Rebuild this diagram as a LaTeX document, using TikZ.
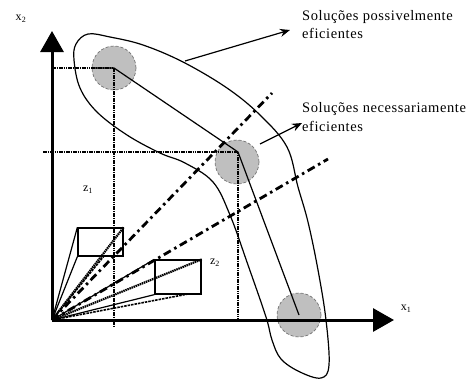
\documentclass[tikz,border=0pt]{standalone}
\usepackage{fontspec}
\setmainfont{Liberation Serif}
\newfontfamily\lblfont[LetterSpace=4]{Liberation Serif}
\usetikzlibrary{arrows.meta}
\begin{document}
\begin{tikzpicture}[x=1pt,y=-1pt,
  axis/.style={line width=3pt, -{Triangle[width=23pt,length=21pt]}},
  guide/.style={line width=2.8pt, dash pattern=on 1.6pt off 0.7pt},
  ray/.style={line width=2.8pt, dash pattern=on 8pt off 4pt on 2.5pt off 4pt},
  sol/.style={circle, minimum size=44pt, inner sep=0pt, fill=black!25, draw=black!55, densely dashed, line width=0.7pt},
  cone/.style={draw, line width=1.3pt, inner sep=0pt},
  thinline/.style={line width=1.2pt},
  fandot/.style={line width=2.2pt, dash pattern=on 1.5pt off 0.7pt},
  fandash/.style={line width=1.6pt, dash pattern=on 2.5pt off 1pt},
  lbl/.style={inner sep=0pt, anchor=base west, font=\lblfont\fontsize{14.5}{17}\selectfont},
  axl/.style={inner sep=0pt, font=\fontsize{12}{14}\selectfont},
  pointer/.style={line width=1.2pt, -{Stealth[length=10pt,width=8pt]}}
]
\useasboundingbox (0,0) rectangle (473,381);

% envelope of possibly efficient solutions
\draw[thinline] plot[smooth cycle, tension=0.6] coordinates {
  (76,44) (88,34) (110,37) (143,45) (183,62) (227,88) (260,115) (287,147)
  (298,187) (308,222) (318,270) (326,320) (329,365) (321,378) (300,372)
  (281,359) (272,340) (266,317) (248,265) (230,215) (213,182) (185,163)
  (160,153) (127,135) (97,112) (80,88) (74,60)};

% solutions
\node[sol] (c1) at (114,68) {};
\node[sol] (c2) at (237,162) {};
\node[sol] (c3) at (299,315) {};

% coordinates
\coordinate (O) at (52,320);
\coordinate (x2tip) at (52,31);
\coordinate (x1tip) at (394,320);
\coordinate (p1) at (114,68);
\coordinate (p2) at (238,152);
\coordinate (g1a) at (52,68);
\coordinate (g1b) at (114,326);
\coordinate (g2a) at (43,152);
\coordinate (g2b) at (238,322);
\coordinate (f0) at (93,68);
\coordinate (r1) at (272,93);
\coordinate (r2) at (328,159);

% guide lines
\draw[guide] (g1a) -- (p1) -- (g1b);
\draw[guide] (g2a) -- (p2) -- (g2b);

% frontier
\draw[thinline] (f0) -- (p1) -- (p2) -- (c3.center);

% rays
\draw[ray] (O) -- (r1);
\draw[ray] (O) -- (r2);

% boxes
\node[cone, minimum width=45pt, minimum height=28pt] (b1) at (100.5,242) {};
\node[cone, minimum width=46pt, minimum height=34pt] (b2) at (178,277) {};
\coordinate (b1m) at (104,256);
\coordinate (b2m) at (188,294);

% cones
\draw[thinline] (O) -- (b1.north west);
\draw[thinline] (O) -- (b1.south west);
\draw[fandot] (O) -- (b1.north east);
\draw[fandash] (O) -- (b1m);
\draw[thinline] (O) -- (b2.north west);
\draw[thinline] (O) -- (b2.south west);
\draw[fandot] (O) -- (b2.north east);
\draw[fandash] (O) -- (b2m);

% axes
\draw[axis] (O) -- (x2tip);
\draw[axis] (O) -- (x1tip);

% labels
\node[axl] (lx2) at (21,19) {x\textsubscript{2}};
\node[axl] (lx1) at (406,309) {x\textsubscript{1}};
\node[axl] (lz1) at (88,190) {z\textsubscript{1}};
\node[axl] (lz2) at (215,263) {z\textsubscript{2}};

\node[lbl] (l1a) at (302,20) {Soluções possivelmente};
\node[lbl] (l1b) at (302,38) {eficientes};
\node[lbl] (l2a) at (302,112) {Soluções necessariamente};
\node[lbl] (l2b) at (302,131) {eficientes};

\coordinate (a1s) at (185,61);
\coordinate (a1t) at (290,30);
\coordinate (a2s) at (260,144);
\coordinate (a2t) at (302,123);
\draw[pointer] (a1s) -- (a1t);
\draw[pointer] (a2s) -- (a2t);
\end{tikzpicture}
\end{document}
